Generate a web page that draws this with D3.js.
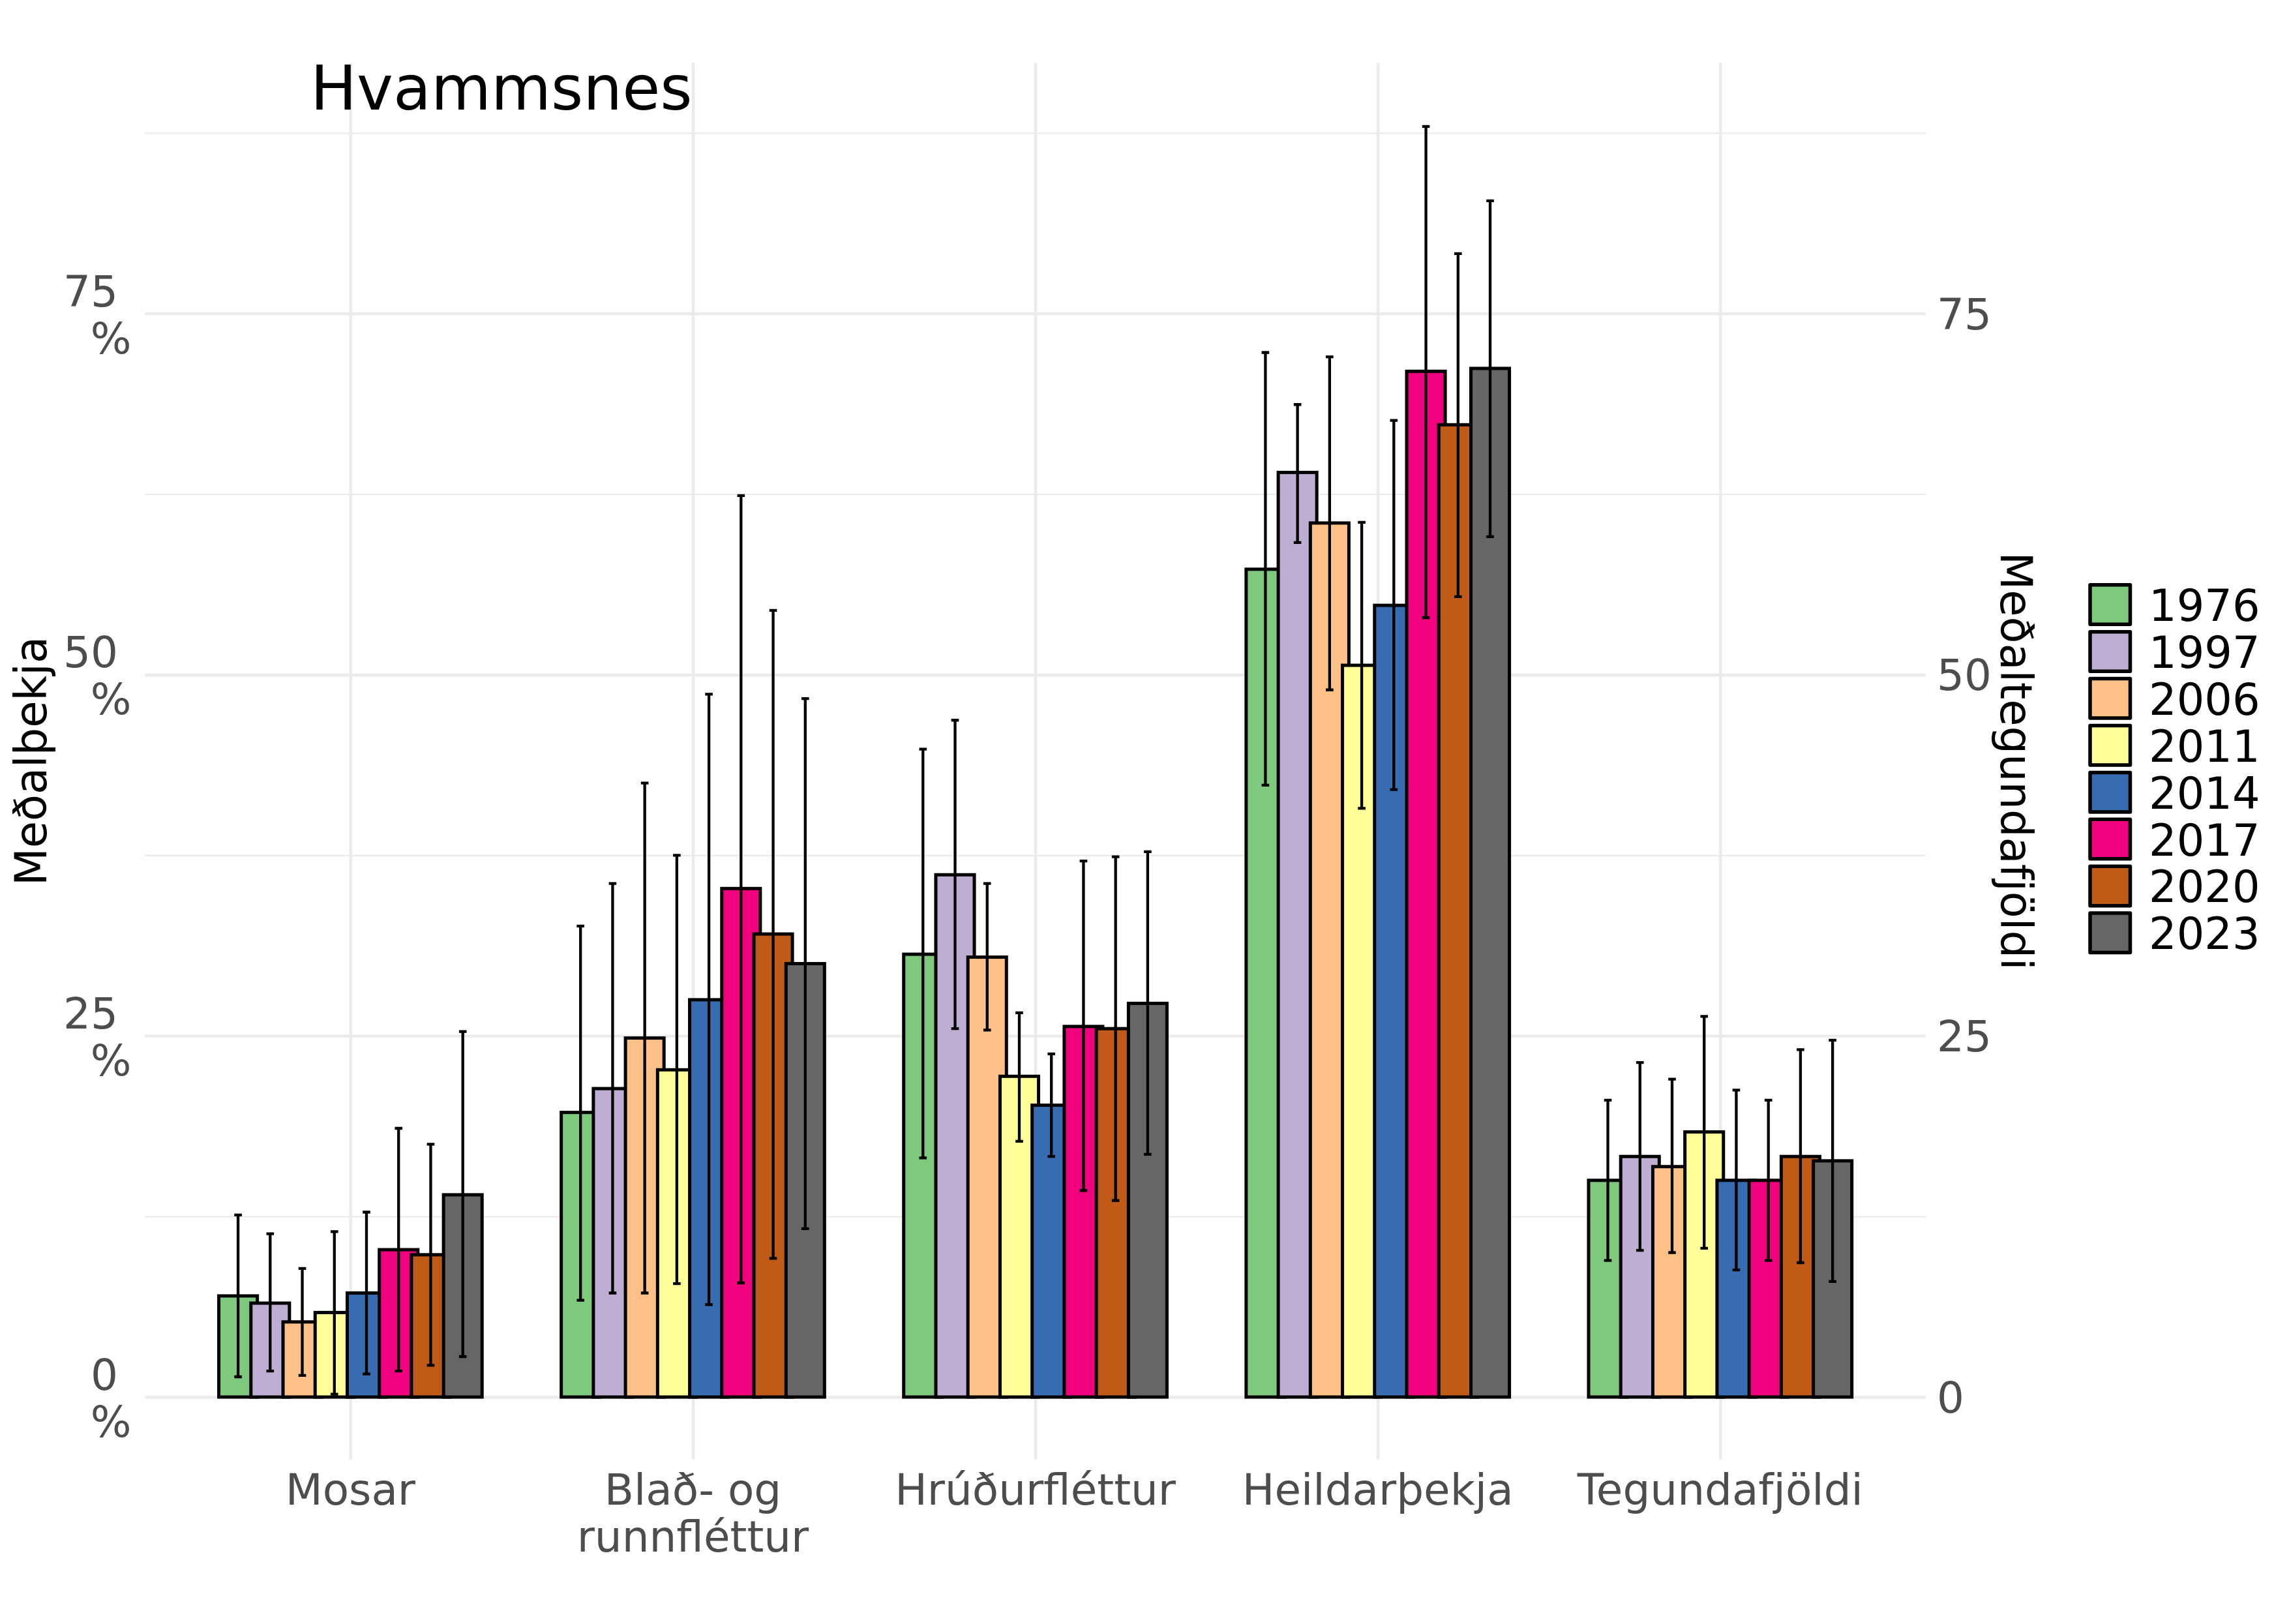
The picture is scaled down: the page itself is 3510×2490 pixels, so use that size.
<!DOCTYPE html>
<html>
<head>
<meta charset="utf-8">
<script src="https://cdn.jsdelivr.net/npm/d3@7"></script>
<style>
  body { margin: 0; background: #fff; }
  text { font-family: "DejaVu Sans", sans-serif; }
</style>
</head>
<body>
<svg id="chart" width="3510" height="2490"></svg>
<script>
// data
var categories = ["Mosar", "Blað- og runnfléttur", "Hrúðurfléttur", "Heildarþekja", "Tegundafjöldi"];
var catLines = [["Mosar"], ["Blað- og", "runnfléttur"], ["Hrúðurfléttur"], ["Heildarþekja"], ["Tegundafjöldi"]];
var years = ["1976", "1997", "2006", "2011", "2014", "2017", "2020", "2023"];
var colors = ["#7FC97F", "#BEAED4", "#FDC086", "#FFFF99", "#386CB0", "#F0027F", "#BF5B17", "#666666"];

var mosarMean = [7.0, 6.5, 5.2, 5.85, 7.2, 10.2, 9.85, 14.0];
var mosarLow = [1.4, 1.8, 1.5, 0.2, 1.6, 1.8, 2.2, 2.8];
var mosarHigh = [12.6, 11.3, 8.9, 11.45, 12.8, 18.6, 17.5, 25.3];

var bladMean = [19.7, 21.35, 24.85, 22.65, 27.5, 35.2, 32.05, 30.0];
var bladLow = [6.7, 7.2, 7.2, 7.85, 6.4, 7.9, 9.6, 11.65];
var bladHigh = [32.6, 35.55, 42.5, 37.5, 48.65, 62.4, 54.45, 48.35];

var hrudMean = [30.65, 36.15, 30.45, 22.2, 20.2, 25.65, 25.5, 27.25];
var hrudLow = [16.55, 25.5, 25.4, 17.7, 16.65, 14.3, 13.6, 16.8];
var hrudHigh = [44.85, 46.85, 35.55, 26.6, 23.75, 37.1, 37.4, 37.75];

var heildMean = [57.3, 64.0, 60.5, 50.65, 54.8, 71.0, 67.3, 71.2];
var heildLow = [42.35, 59.15, 48.95, 40.75, 42.05, 53.95, 55.4, 59.55];
var heildHigh = [72.3, 68.7, 72.0, 60.55, 67.6, 87.95, 79.15, 82.8];

var tegMean = [15.0, 16.65, 15.95, 18.35, 15.0, 15.0, 16.65, 16.35];
var tegLow = [9.45, 10.15, 10.0, 10.3, 8.8, 9.45, 9.3, 8.0];
var tegHigh = [20.55, 23.15, 22.0, 26.35, 21.25, 20.55, 24.05, 24.7];

var majorTicks = [0, 25, 50, 75];
var minorTicks = [12.5, 37.5, 62.5, 87.5];

var means = [mosarMean, bladMean, hrudMean, heildMean, tegMean];
var lows = [mosarLow, bladLow, hrudLow, heildLow, tegLow];
var highs = [mosarHigh, bladHigh, hrudHigh, heildHigh, tegHigh];

var rows = [];
categories.forEach(function(c, ci) {
    years.forEach(function(yr, yi) {
        rows.push({cat: c, year: yr, yi: yi, mean: means[ci][yi], low: lows[ci][yi], high: highs[ci][yi]});
    });
});

var svg = d3.select("#chart");
// panel edges (note: "top" is taken by window.top)
var pLeft = 222.3, pRight = 2952.9, pTop = 96.4, pBottom = 2237.7;

var x = d3.scalePoint().domain(categories).range([pLeft, pRight]).padding(0.6);
var step = x.step();
var xYear = d3.scaleBand().domain(years).range([-0.375 * step, 0.375 * step]);
var barW = xYear.bandwidth() * 1.2;
var y = d3.scaleLinear().domain([-4.32, 92.35]).range([pBottom, pTop]);

svg.append("rect").attr("width", 3510).attr("height", 2490).attr("fill", "#fff");

// grid
var grid = svg.append("g");
grid.append("g").attr("transform", "translate(" + pLeft + ",0)")
    .call(d3.axisLeft(y).tickValues(minorTicks).tickSize(-(pRight - pLeft)).tickFormat(""))
    .call(function(g) { g.select(".domain").remove(); })
    .selectAll("line").attr("stroke", "#EBEBEB").attr("stroke-width", 2.3);
grid.append("g").attr("transform", "translate(" + pLeft + ",0)")
    .call(d3.axisLeft(y).tickValues(majorTicks).tickSize(-(pRight - pLeft)).tickFormat(""))
    .call(function(g) { g.select(".domain").remove(); })
    .selectAll("line").attr("stroke", "#EBEBEB").attr("stroke-width", 4.5);
grid.append("g").attr("transform", "translate(0," + pBottom + ")")
    .call(d3.axisBottom(x).tickSize(-(pBottom - pTop)).tickFormat(""))
    .call(function(g) { g.select(".domain").remove(); })
    .selectAll("line").attr("stroke", "#EBEBEB").attr("stroke-width", 4.5);

// bars
svg.append("g").selectAll("rect").data(rows).enter().append("rect")
    .attr("x", function(d) { return x(d.cat) + xYear(d.year) + xYear.bandwidth() / 2 - barW / 2; })
    .attr("y", function(d) { return y(d.mean); })
    .attr("width", barW)
    .attr("height", function(d) { return y(0) - y(d.mean); })
    .attr("fill", function(d) { return colors[d.yi]; })
    .attr("stroke", "#000").attr("stroke-width", 5);

// error bars
var cap = 5.8;
svg.append("g").selectAll("path").data(rows).enter().append("path")
    .attr("d", function(d) {
        var cx = x(d.cat) + xYear(d.year) + xYear.bandwidth() / 2;
        var y1 = y(d.high), y0 = y(d.low);
        return "M" + (cx - cap) + "," + y1 + "H" + (cx + cap) +
            "M" + cx + "," + y1 + "V" + y0 +
            "M" + (cx - cap) + "," + y0 + "H" + (cx + cap);
    })
    .attr("fill", "none").attr("stroke", "#000").attr("stroke-width", 4.3);

// left axis labels (two lines)
var lt = svg.append("g").selectAll("g").data(majorTicks).enter().append("g")
    .attr("fill", "#4D4D4D").attr("font-size", 66);
lt.append("text").attr("x", 181).attr("y", function(d) { return y(d) - 11; })
    .attr("text-anchor", "end").text(function(d) { return d; });
lt.append("text").attr("x", 201.5).attr("y", function(d) { return y(d) + 61; })
    .attr("text-anchor", "end").text("%");

// right axis labels
svg.append("g").selectAll("text").data(majorTicks).enter().append("text")
    .attr("x", 2970).attr("y", function(d) { return y(d) + 24; })
    .attr("fill", "#4D4D4D").attr("font-size", 66)
    .text(function(d) { return d; });

// x labels
var xl = svg.append("g").selectAll("text").data(categories).enter().append("text")
    .attr("text-anchor", "middle").attr("fill", "#4D4D4D").attr("font-size", 66);
xl.each(function(c, i) {
    var t = d3.select(this);
    catLines[i].forEach(function(line, li) {
        t.append("tspan").attr("x", x(c)).attr("y", 2307 + li * 72).text(line);
    });
});

// axis titles
svg.append("text").attr("transform", "translate(71,1167) rotate(-90)")
    .attr("text-anchor", "middle").attr("font-size", 67).text("Meðalþekja");
svg.append("text").attr("transform", "translate(3068,1167) rotate(90)")
    .attr("text-anchor", "middle").attr("font-size", 67).text("Meðaltegundafjöldi");

// title
svg.append("text").attr("x", 476).attr("y", 168).attr("font-size", 94.5).text("Hvammsnes");

// legend
var leg = svg.append("g").selectAll("g").data(years).enter().append("g")
    .attr("transform", function(d, i) { return "translate(3205," + (896.8 + i * 71.9) + ")"; });
leg.append("rect").attr("width", 61.5).attr("height", 60.5)
    .attr("fill", function(d, i) { return colors[i]; })
    .attr("stroke", "#000").attr("stroke-width", 5.5).attr("stroke-linejoin", "round");
leg.append("text").attr("x", 90).attr("y", 55.2).attr("font-size", 67).text(function(d) { return d; });
</script>
</body>
</html>
